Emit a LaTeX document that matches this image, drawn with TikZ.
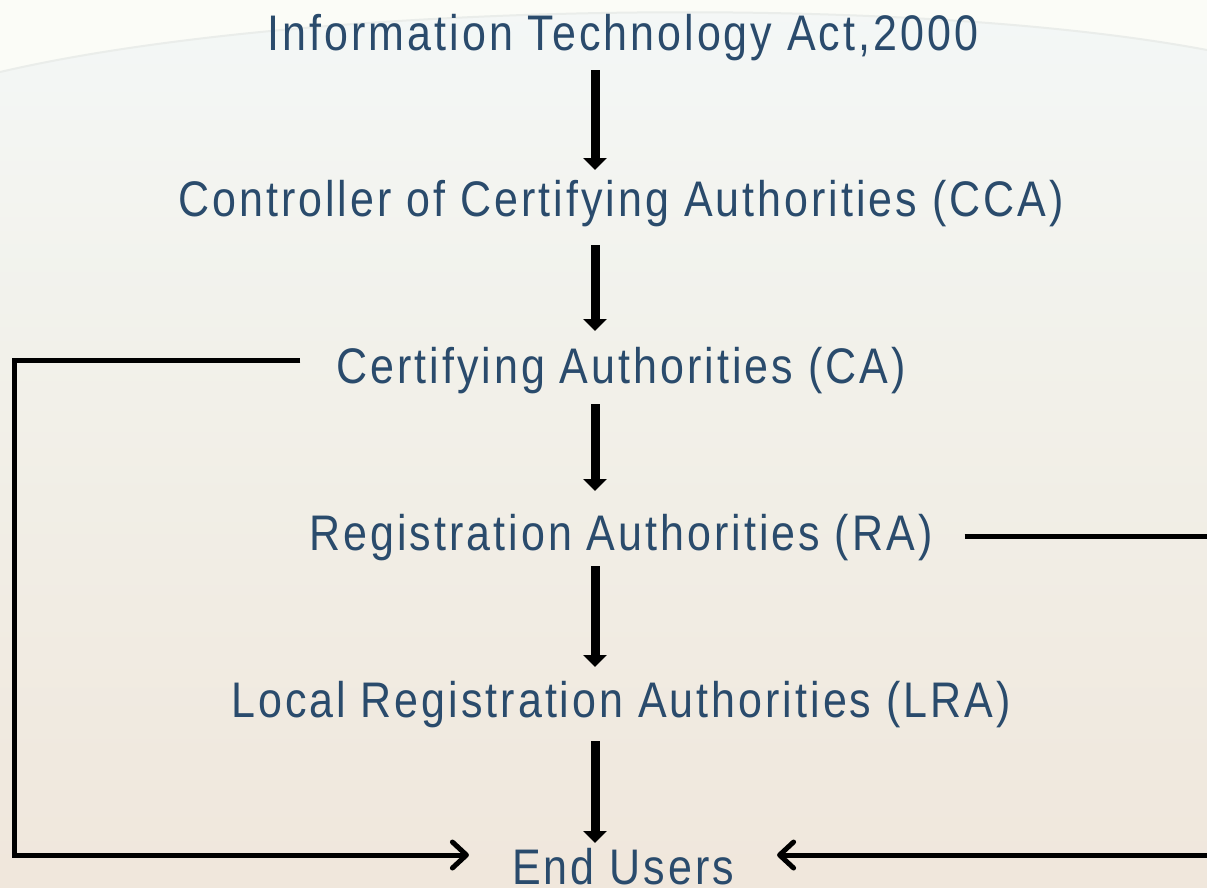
\documentclass[tikz,border=0pt]{standalone}
\usepackage{fontspec}
\setmainfont{Liberation Sans}[FakeStretch=0.86,LetterSpace=6]
\usetikzlibrary{arrows.meta,calc}
\definecolor{txt}{RGB}{42,75,108}
\definecolor{bgtop}{RGB}{244,249,250}
\definecolor{bgmid}{RGB}{242,241,234}
\definecolor{bgbot}{RGB}{239,228,216}
\definecolor{cream}{RGB}{251,252,247}
\definecolor{arcline}{RGB}{234,237,234}
\pgfdeclareverticalshading{bgshade}{100bp}{color(0bp)=(bgbot); color(25bp)=(bgbot!80!bgmid); color(55bp)=(bgmid); color(80bp)=(bgtop); color(100bp)=(bgtop)}
\begin{document}
\begin{tikzpicture}[x=1pt,y=1pt,
  lbl/.style={anchor=base, text=txt, inner sep=0pt, font=\fontsize{50}{60}\selectfont},
  down/.style={line width=9pt, -{Triangle[length=12pt,width=23pt]}},
  conn/.style={line width=5pt, line join=miter, -{Straight Barb[length=14pt,width=26pt,line cap=round,line join=round]}}]
\useasboundingbox (0,0) rectangle (1207,-887);
\shade[shading=bgshade] (0,0) rectangle (1207,-887);
\fill[cream] (0,0) -- (0,-72) .. controls (300,-2) and (900,8) .. (1207,-50) -- (1207,0) -- cycle;
\draw[arcline, line width=2pt] (0,-72) .. controls (300,-2) and (900,8) .. (1207,-50);
\node[lbl] (it) at (623,-50) {Information Technology Act,2000};
\node[lbl] (cca) at (621,-216) {Controller of Certifying Authorities (CCA)};
\node[lbl] (ca) at (621,-383) {Certifying Authorities (CA)};
\node[lbl] (ra) at (621,-550) {Registration Authorities (RA)};
\node[lbl] (lra) at (621,-717) {Local Registration Authorities (LRA)};
\node[lbl] (eu) at (623,-884) {End Users};
\coordinate (col) at (595,0);
\coordinate (lbend) at (14,-855);
\coordinate (rbend) at (1216,-855);
\draw[down] ($(it.base -| col)+(0,-20)$) -- ($(cca.base -| col)+(0,46)$);
\draw[down] ($(cca.base -| col)+(0,-29)$) -- ($(ca.base -| col)+(0,52)$);
\draw[down] ($(ca.base -| col)+(0,-21)$) -- ($(ra.base -| col)+(0,59)$);
\draw[down] ($(ra.base -| col)+(0,-16)$) -- ($(lra.base -| col)+(0,50)$);
\draw[down] ($(lra.base -| col)+(0,-24)$) -- ($(eu.base -| col)+(0,41)$);
\draw[conn] ($(ca.base west)+(-36,23)$) -| (lbend) -- ($(eu.base west)+(-43,29)$);
\draw[conn] ($(ra.base east)+(32,14)$) -| (rbend) -- ($(eu.base east)+(43,29)$);
\end{tikzpicture}
\end{document}
